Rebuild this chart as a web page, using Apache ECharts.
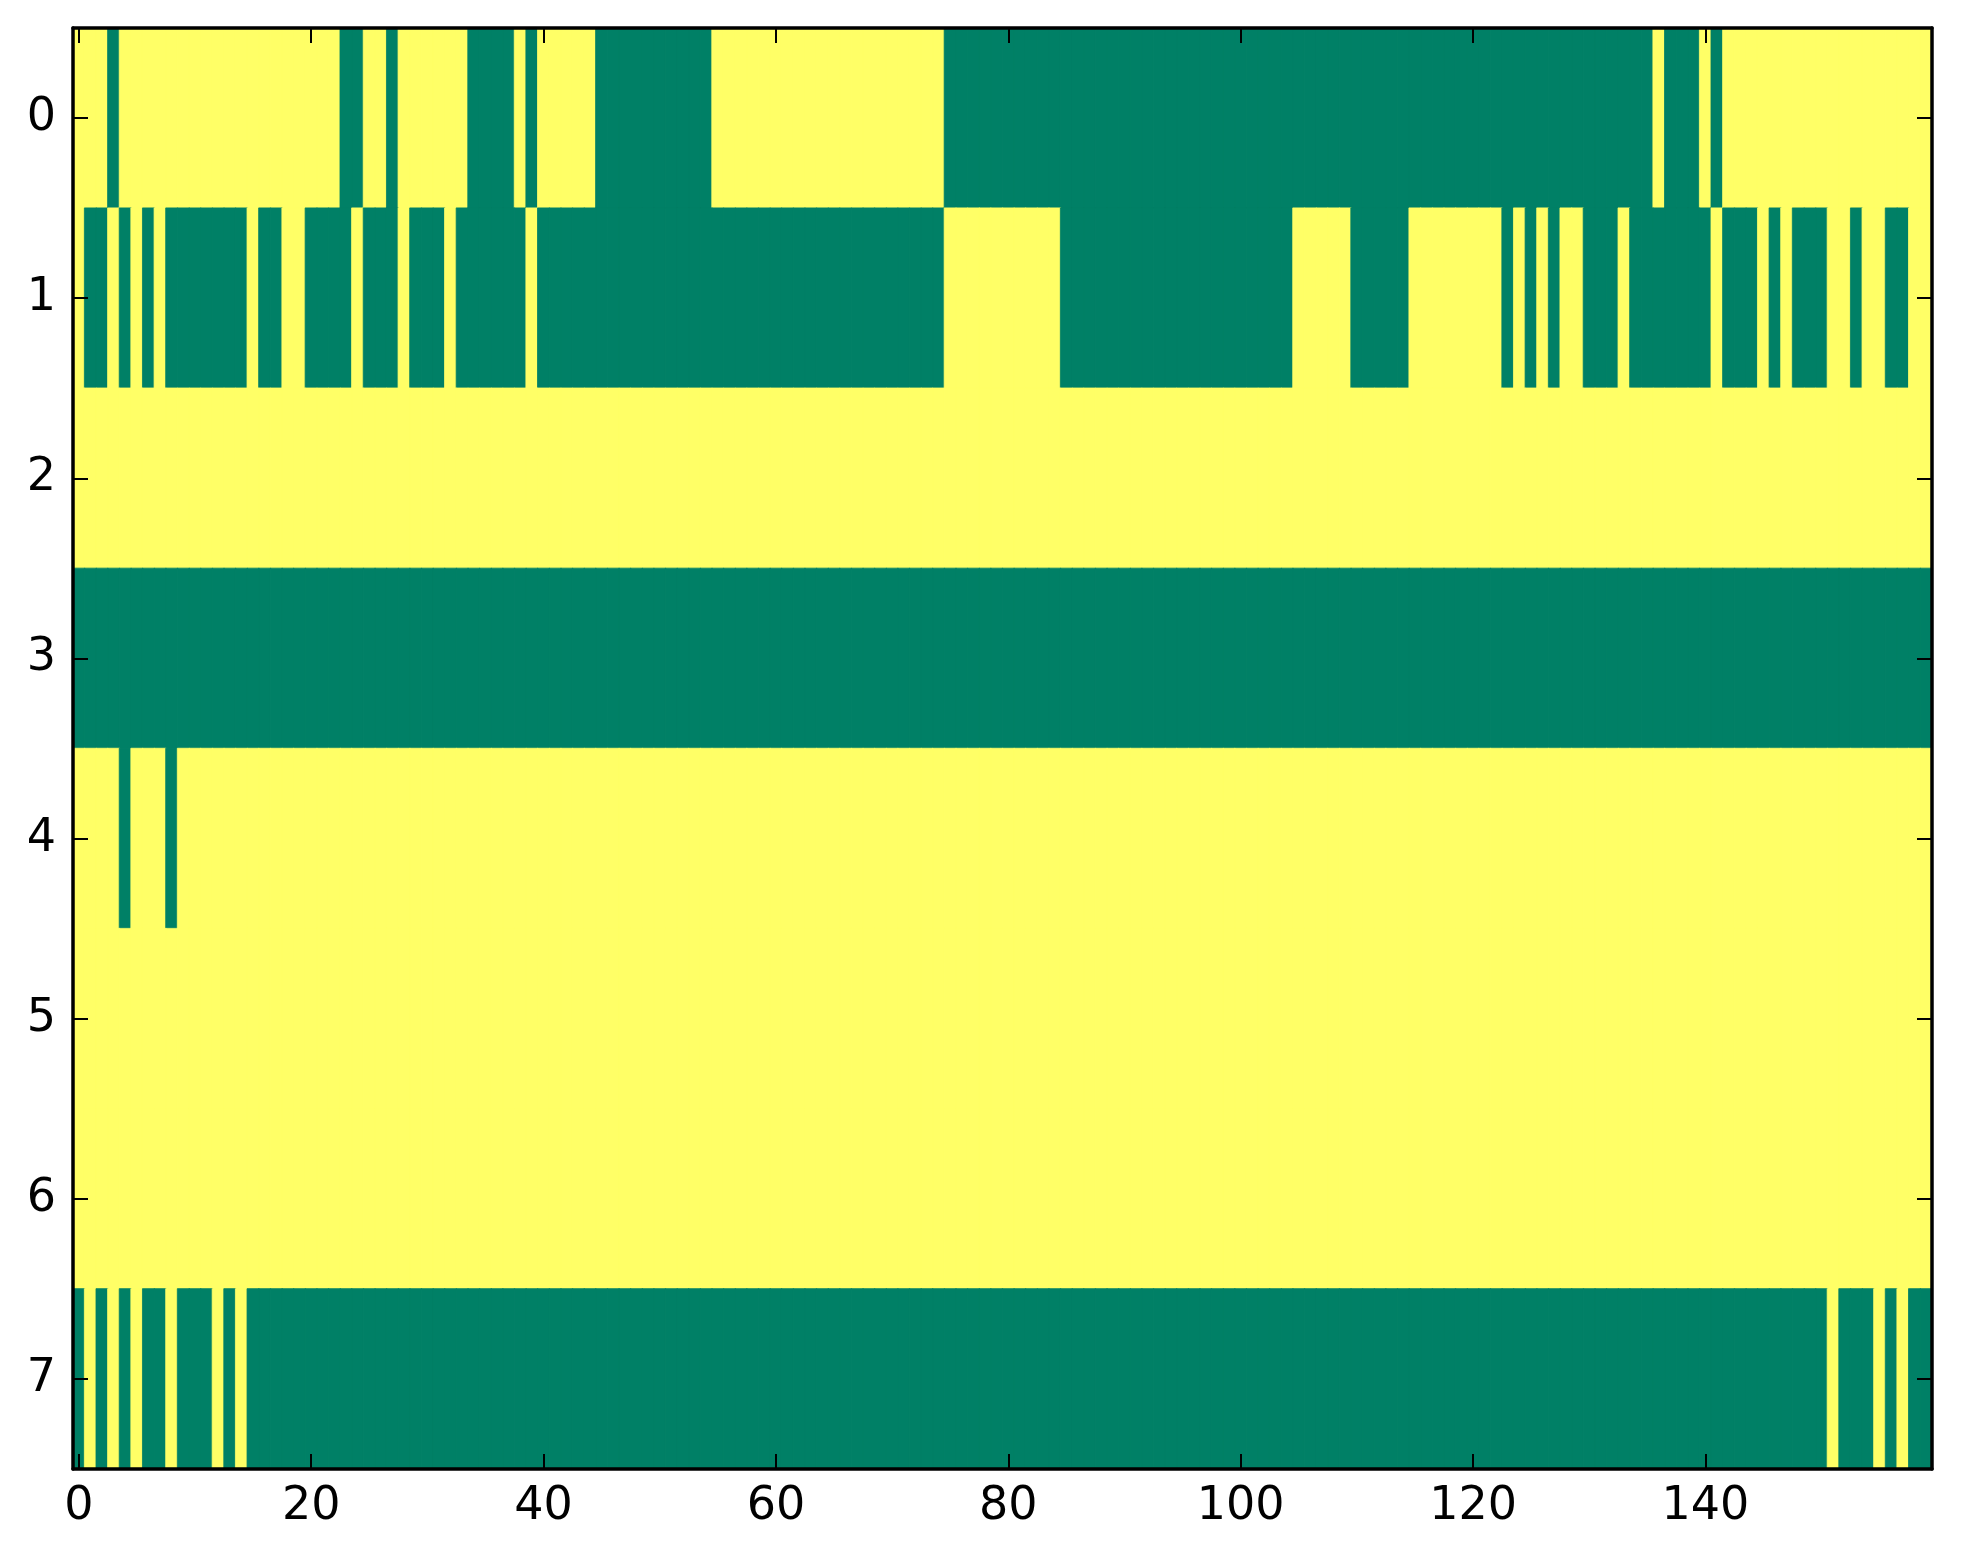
<!DOCTYPE html>
<html>
<head>
<meta charset="utf-8">
<script src="https://cdn.jsdelivr.net/npm/echarts@6/dist/echarts.min.js"></script>
<style>
html,body{margin:0;padding:0;background:#fff;}
#main{width:1963px;height:1564px;}
</style>
</head>
<body>
<div id="main"></div>
<script>
// 1 = yellow, 0 = green (summer colormap)
const row0 = [
1,1,1,0,1,1,1,1,1,1, 1,1,1,1,1,1,1,1,1,1,
1,1,1,0,0,1,1,0,1,1, 1,1,1,1,0,0,0,0,1,0,
1,1,1,1,1,0,0,0,0,0, 0,0,0,0,0,1,1,1,1,1,
1,1,1,1,1,1,1,1,1,1, 1,1,1,1,1,0,0,0,0,0,
0,0,0,0,0,0,0,0,0,0, 0,0,0,0,0,0,0,0,0,0,
0,0,0,0,0,0,0,0,0,0, 0,0,0,0,0,0,0,0,0,0,
0,0,0,0,0,0,0,0,0,0, 0,0,0,0,0,0,1,0,0,0,
1,0,1,1,1,1,1,1,1,1, 1,1,1,1,1,1,1,1,1,1
];
const row1 = [
1,0,0,1,0,1,0,1,0,0, 0,0,0,0,0,1,0,0,1,1,
0,0,0,0,1,0,0,0,1,0, 0,0,1,0,0,0,0,0,0,1,
0,0,0,0,0,0,0,0,0,0, 0,0,0,0,0,0,0,0,0,0,
0,0,0,0,0,0,0,0,0,0, 0,0,0,0,0,1,1,1,1,1,
1,1,1,1,1,0,0,0,0,0, 0,0,0,0,0,0,0,0,0,0,
0,0,0,0,0,1,1,1,1,1, 0,0,0,0,0,1,1,1,1,1,
1,1,1,0,1,0,1,0,1,1, 0,0,0,1,0,0,0,0,0,0,
0,1,0,0,0,1,0,1,0,0, 0,1,1,0,1,1,0,0,1,1
];
const row2 = [
1,1,1,1,1,1,1,1,1,1, 1,1,1,1,1,1,1,1,1,1,
1,1,1,1,1,1,1,1,1,1, 1,1,1,1,1,1,1,1,1,1,
1,1,1,1,1,1,1,1,1,1, 1,1,1,1,1,1,1,1,1,1,
1,1,1,1,1,1,1,1,1,1, 1,1,1,1,1,1,1,1,1,1,
1,1,1,1,1,1,1,1,1,1, 1,1,1,1,1,1,1,1,1,1,
1,1,1,1,1,1,1,1,1,1, 1,1,1,1,1,1,1,1,1,1,
1,1,1,1,1,1,1,1,1,1, 1,1,1,1,1,1,1,1,1,1,
1,1,1,1,1,1,1,1,1,1, 1,1,1,1,1,1,1,1,1,1
];
const row3 = [
0,0,0,0,0,0,0,0,0,0, 0,0,0,0,0,0,0,0,0,0,
0,0,0,0,0,0,0,0,0,0, 0,0,0,0,0,0,0,0,0,0,
0,0,0,0,0,0,0,0,0,0, 0,0,0,0,0,0,0,0,0,0,
0,0,0,0,0,0,0,0,0,0, 0,0,0,0,0,0,0,0,0,0,
0,0,0,0,0,0,0,0,0,0, 0,0,0,0,0,0,0,0,0,0,
0,0,0,0,0,0,0,0,0,0, 0,0,0,0,0,0,0,0,0,0,
0,0,0,0,0,0,0,0,0,0, 0,0,0,0,0,0,0,0,0,0,
0,0,0,0,0,0,0,0,0,0, 0,0,0,0,0,0,0,0,0,0
];
const row4 = [
1,1,1,1,0,1,1,1,0,1, 1,1,1,1,1,1,1,1,1,1,
1,1,1,1,1,1,1,1,1,1, 1,1,1,1,1,1,1,1,1,1,
1,1,1,1,1,1,1,1,1,1, 1,1,1,1,1,1,1,1,1,1,
1,1,1,1,1,1,1,1,1,1, 1,1,1,1,1,1,1,1,1,1,
1,1,1,1,1,1,1,1,1,1, 1,1,1,1,1,1,1,1,1,1,
1,1,1,1,1,1,1,1,1,1, 1,1,1,1,1,1,1,1,1,1,
1,1,1,1,1,1,1,1,1,1, 1,1,1,1,1,1,1,1,1,1,
1,1,1,1,1,1,1,1,1,1, 1,1,1,1,1,1,1,1,1,1
];
const row5 = [
1,1,1,1,1,1,1,1,1,1, 1,1,1,1,1,1,1,1,1,1,
1,1,1,1,1,1,1,1,1,1, 1,1,1,1,1,1,1,1,1,1,
1,1,1,1,1,1,1,1,1,1, 1,1,1,1,1,1,1,1,1,1,
1,1,1,1,1,1,1,1,1,1, 1,1,1,1,1,1,1,1,1,1,
1,1,1,1,1,1,1,1,1,1, 1,1,1,1,1,1,1,1,1,1,
1,1,1,1,1,1,1,1,1,1, 1,1,1,1,1,1,1,1,1,1,
1,1,1,1,1,1,1,1,1,1, 1,1,1,1,1,1,1,1,1,1,
1,1,1,1,1,1,1,1,1,1, 1,1,1,1,1,1,1,1,1,1
];
const row6 = [
1,1,1,1,1,1,1,1,1,1, 1,1,1,1,1,1,1,1,1,1,
1,1,1,1,1,1,1,1,1,1, 1,1,1,1,1,1,1,1,1,1,
1,1,1,1,1,1,1,1,1,1, 1,1,1,1,1,1,1,1,1,1,
1,1,1,1,1,1,1,1,1,1, 1,1,1,1,1,1,1,1,1,1,
1,1,1,1,1,1,1,1,1,1, 1,1,1,1,1,1,1,1,1,1,
1,1,1,1,1,1,1,1,1,1, 1,1,1,1,1,1,1,1,1,1,
1,1,1,1,1,1,1,1,1,1, 1,1,1,1,1,1,1,1,1,1,
1,1,1,1,1,1,1,1,1,1, 1,1,1,1,1,1,1,1,1,1
];
const row7 = [
0,1,0,1,0,1,0,0,1,0, 0,0,1,0,1,0,0,0,0,0,
0,0,0,0,0,0,0,0,0,0, 0,0,0,0,0,0,0,0,0,0,
0,0,0,0,0,0,0,0,0,0, 0,0,0,0,0,0,0,0,0,0,
0,0,0,0,0,0,0,0,0,0, 0,0,0,0,0,0,0,0,0,0,
0,0,0,0,0,0,0,0,0,0, 0,0,0,0,0,0,0,0,0,0,
0,0,0,0,0,0,0,0,0,0, 0,0,0,0,0,0,0,0,0,0,
0,0,0,0,0,0,0,0,0,0, 0,0,0,0,0,0,0,0,0,0,
0,0,0,0,0,0,0,0,0,0, 0,1,0,0,0,1,0,1,0,0
];
const rows = [row0, row1, row2, row3, row4, row5, row6, row7];
const rowLabels = ['0','1','2','3','4','5','6','7'];
const colCount = 160;
const colLabels = Array.from({length: colCount}, (_, i) => String(i));
const GREEN = '#008066';
const YELLOW = '#ffff66';

const data = [];
rows.forEach((r, y) => r.forEach((v, x) => {
  const c = v ? YELLOW : GREEN;
  data.push({value: [x, y, v], itemStyle: {color: c, borderColor: c, borderWidth: 0.8}});
}));

const chart = echarts.init(document.getElementById('main'), null, {renderer: 'canvas'});
const font = {fontFamily: 'DejaVu Sans', fontSize: 46, color: '#000'};
const lineStyle = {color: '#000', width: 3.5};
const tickStyle = {color: '#000', width: 2};

chart.setOption({
  animation: false,
  backgroundColor: '#fff',
  grid: {left: 73, top: 28, width: 1859, height: 1441, containLabel: false},
  xAxis: [{
    type: 'category', data: colLabels, position: 'bottom', z: 10,
    axisLine: {show: true, lineStyle},
    axisTick: {show: true, inside: true, length: 15, interval: 19, alignWithLabel: true, lineStyle: tickStyle},
    axisLabel: Object.assign({interval: 19, margin: 15, lineHeight: 46}, font),
    splitLine: {show: false}
  }, {
    type: 'category', data: colLabels, position: 'top', z: 10,
    axisLine: {show: true, onZero: false, lineStyle},
    axisTick: {show: true, inside: true, length: 15, interval: 19, alignWithLabel: true, lineStyle: tickStyle},
    axisLabel: {show: false},
    splitLine: {show: false}
  }],
  yAxis: [{
    type: 'category', data: rowLabels, inverse: true, position: 'left', z: 10,
    axisLine: {show: true, lineStyle},
    axisTick: {show: true, inside: true, length: 15, alignWithLabel: true, lineStyle: tickStyle},
    axisLabel: Object.assign({margin: 17}, font),
    splitLine: {show: false}
  }, {
    type: 'category', data: rowLabels, inverse: true, position: 'right', z: 10,
    axisLine: {show: true, onZero: false, lineStyle},
    axisTick: {show: true, inside: true, length: 15, alignWithLabel: true, lineStyle: tickStyle},
    axisLabel: {show: false},
    splitLine: {show: false}
  }],
  series: [{
    type: 'heatmap', xAxisIndex: 0, yAxisIndex: 0, z: 1,
    data: data,
    emphasis: {disabled: true},
    progressive: 0
  }]
});
</script>
</body>
</html>
